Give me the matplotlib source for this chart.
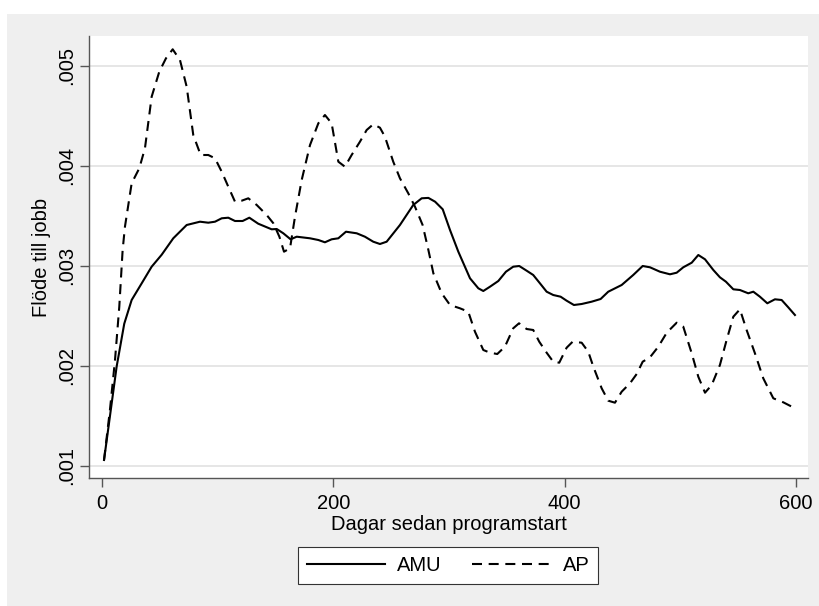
import matplotlib
matplotlib.use("Agg")
import matplotlib.pyplot as plt
from matplotlib.patches import Rectangle
from matplotlib.ticker import FuncFormatter

# Flöde till jobb, AMU vs AP
dagar_amu = [1.6, 12.5, 19.1, 25.5, 34.2, 42.8, 51.5, 61.5, 73.1, 84.6, 91.8, 97.6,
             103.4, 109.1, 114.9, 121.5, 127.3, 135, 146.6, 151, 156.7, 163, 168.3,
             179.8, 187, 192.7, 198.5, 204.3, 210.9, 220.2, 227.3, 234.5, 240.3, 246.1,
             257.6, 269.1, 276.4, 282.2, 288, 294.6, 300.9, 308.1, 318.2, 325.4, 329.7,
             335.5, 342.7, 349.3, 355.6, 360.8, 367.2, 372.9, 378.7, 384.5, 390.2, 396.6,
             401.8, 408.1, 414.8, 423.4, 431.2, 437.8, 449.4, 459.4, 467.6, 473.9, 482.5,
             491.2, 497, 502.7, 510, 515.7, 521.5, 528.7, 534.4, 539.6, 546, 551.7, 558.9,
             563.3, 569, 575.4, 582, 587.8, 593.5, 599.3]
flode_amu = [.001057, .00199, .00242, .002657, .002824, .00299, .00311, .003274, .003407,
             .00344, .00343, .00344, .003474, .00348, .003447, .003447, .00348, .00342,
             .003364, .003367, .003324, .003264, .00329, .003274, .003257, .003234, .003264,
             .003274, .00334, .003324, .00329, .00324, .003217, .00324, .003407, .003607,
             .003674, .003678, .00364, .003564, .003357, .00314, .002874, .002774, .002747,
             .00279, .002847, .00294, .00299, .002997, .00295, .002907, .002824, .00274,
             .002707, .00269, .00265, .002607, .002617, .00264, .002667, .00274, .002807,
             .002907, .002997, .002984, .00294, .002914, .00293, .002984, .00303, .003107,
             .003064, .002957, .002884, .00284, .002764, .002757, .002724, .00274, .00269,
             .002624, .002664, .002657, .002584, .002507]

dagar_ap = [1.6, 6.7, 11.1, 14.8, 17.7, 19.7, 25.5, 32.1, 37, 42.8, 49.4, 55.2, 61, 67.3,
            73.1, 78.8, 85.2, 91.8, 97.6, 103.4, 109.1, 114.9, 120.7, 126.4, 133.7, 142.3,
            148.1, 153.3, 157.3, 162.5, 166.8, 172.6, 179.8, 187, 192.7, 198.5, 204.3, 210,
            215.8, 223, 228.8, 234.5, 240.3, 244.6, 251.8, 257.6, 264.8, 270.6, 277.2, 282.2,
            286.5, 293.7, 300.9, 309.5, 316.7, 322.5, 329.7, 335.5, 341.8, 348.4, 355.6,
            360.6, 367.2, 372.9, 378.1, 384.5, 390.2, 395.4, 401.8, 407, 414.8, 420.5, 424.9,
            432.1, 437.8, 443.6, 449.4, 456.6, 462.4, 467.6, 473.9, 481.1, 488.4, 497, 502.7,
            510, 515.7, 521.5, 527.3, 534.4, 540.2, 546, 551.7, 557.5, 564.7, 571.9, 580.6,
            589.2, 599.3]
flode_ap = [.001057, .001557, .002057, .00259, .003157, .00339, .003824, .003974, .004174,
            .00469, .00494, .005074, .005164, .005057, .00479, .004307, .004107, .004107,
            .004074, .00394, .00379, .00364, .00365, .003674, .003607, .003507, .003424,
            .00329, .00314, .003174, .00349, .003857, .004207, .004424, .004507, .004424,
            .00404, .00399, .004107, .00424, .004357, .004414, .00438, .00429, .00404,
            .003874, .003724, .00359, .003407, .003157, .002924, .002724, .002607, .002574,
            .00254, .00234, .002157, .00213, .002117, .00219, .002374, .002424, .002367,
            .002357, .00224, .00213, .00204, .00203, .00218, .00224, .00223, .00214, .00199,
            .001774, .00165, .00163, .00174, .001824, .001917, .00204, .002084, .00219,
            .00233, .00243, .00239, .002124, .00189, .00173, .001807, .002007, .002257,
            .00249, .002564, .002357, .002124, .001874, .001674, .001634, .001574]

x_ticks = [0, 200, 400, 600]
y_ticks = [.001, .002, .003, .004, .005]

plt.rcParams['font.family'] = ['Liberation Sans', 'DejaVu Sans']
fs = 14.5
bg = '#efefef'

fig = plt.figure(figsize=(8.19, 6.06), dpi=100, facecolor='white')
fig.patches.append(Rectangle((7 / 819, 0), 1, (606 - 14) / 606, transform=fig.transFigure,
                             facecolor=bg, edgecolor='none', zorder=-10))

ax = fig.add_axes([89 / 819, 1 - 478 / 606, (808 - 89) / 819, (478 - 36) / 606])
ax.set_facecolor('white')

ax.plot(dagar_amu, flode_amu, color='black', lw=1.5, label='AMU')
ax.plot(dagar_ap, flode_ap, color='black', lw=1.5, linestyle=(0, (4.8, 3.2)), label='AP')

ax.set_xlim(-11.4, 610.6)
ax.set_ylim(0.000877, 0.005297)
ax.set_xticks(x_ticks)
ax.set_yticks(y_ticks)
ax.yaxis.set_major_formatter(FuncFormatter(lambda v, p: f"{v:.3f}".lstrip('0')))
ax.grid(axis='y', color='#e4e4e4', lw=1.3)
ax.set_axisbelow(True)

for s in ['top', 'right']:
    ax.spines[s].set_visible(False)
for s in ['left', 'bottom']:
    ax.spines[s].set_color('#555555')
    ax.spines[s].set_linewidth(1.0)
ax.tick_params(axis='both', length=6.5, width=1.0, color='#555555', labelsize=fs, pad=3)
ax.tick_params(axis='x', pad=5)
for lab in ax.get_yticklabels():
    lab.set_rotation(90)
    lab.set_va('center')

ax.set_xlabel('Dagar sedan programstart', fontsize=fs, labelpad=1.5)
ax.set_ylabel('Flöde till jobb', fontsize=fs, labelpad=4)

leg = fig.legend(loc='center', bbox_to_anchor=(448 / 819, 1 - 565.4 / 606), ncol=2,
                 fontsize=fs, frameon=True, fancybox=False, framealpha=1,
                 edgecolor='#333333', handlelength=3.9, handletextpad=0.6,
                 columnspacing=1.5, borderpad=0.45)
leg.get_frame().set_linewidth(0.8)

fig.savefig('out.png', dpi=100, facecolor=fig.get_facecolor())
